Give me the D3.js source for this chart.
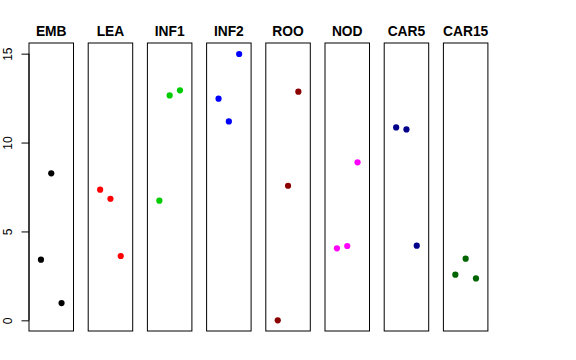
<!DOCTYPE html>
<html><head><meta charset="utf-8">
<script src="https://cdn.jsdelivr.net/npm/d3@7"></script>
<style>body{margin:0;background:#fff}svg{display:block}</style>
</head><body>
<script>
const categories = ["EMB","LEA","INF1","INF2","ROO","NOD","CAR5","CAR15"];
const colors = ["#000000","#FF0000","#00CD00","#0000FF","#8B0000","#FF00FF","#00008B","#006400"];
const replicate = [1, 2, 3];
const values = [
  [3.41, 8.27, 0.97],
  [7.35, 6.84, 3.62],
  [6.73, 12.65, 12.94],
  [12.47, 11.19, 14.98],
  [0.0, 7.57, 12.86],
  [4.05, 4.18, 8.89],
  [10.85, 10.74, 4.20],
  [2.57, 3.47, 2.36]
];
const yTicks = [0, 5, 10, 15];

(function() {
const W = 576, H = 360;
const svg = d3.select("body").append("svg").attr("width", W).attr("height", H);

const plotTop = 43, plotBottom = 331;
const yMin = -0.6, yMax = 15.6;
const y = d3.scaleLinear().domain([yMin, yMax]).range([plotBottom, plotTop]);

const panelW = 44.5;
const firstX = 29, step = 59.2;
const px = d3.scaleLinear().domain([0.784, 1.216]).range([0, panelW]);
const xr = d3.scaleLinear().domain([1, 3]).range([0.9, 1.1]);

categories.forEach((cat, i) => {
  const x0 = firstX + i * step;
  const g = svg.append("g").attr("transform", `translate(${x0},0)`);
  g.append("rect").attr("x", 0).attr("y", plotTop).attr("width", panelW).attr("height", plotBottom - plotTop)
    .attr("fill", "none").attr("stroke", "#000").attr("stroke-width", 1);
  g.append("text").attr("x", panelW / 2).attr("y", 35.5).attr("text-anchor", "middle")
    .attr("font-family", "Liberation Sans, Arial, sans-serif").attr("font-weight", "bold")
    .attr("font-size", 13.8).text(cat);
  g.selectAll("circle").data(values[i]).join("circle")
    .attr("cx", (d, j) => px(xr(replicate[j])))
    .attr("cy", d => y(d))
    .attr("r", 3.1)
    .attr("fill", colors[i]);
});

const axis = d3.axisLeft(y).tickValues(yTicks).tickSize(7.5).tickPadding(0).tickFormat(d3.format("d"));
const ag = svg.append("g").attr("transform", `translate(${firstX},0)`).call(axis);
ag.select(".domain").attr("d", `M0,${y(0)}V${y(15)}`).attr("stroke", "#000");
ag.selectAll(".tick line").attr("stroke", "#000");
ag.selectAll(".tick text")
  .attr("font-family", "Liberation Sans, Arial, sans-serif").attr("font-size", 12)
  .attr("fill", "#000")
  .attr("transform", "rotate(-90)")
  .attr("x", 0).attr("y", -17.5).attr("dy", 0)
  .attr("text-anchor", "middle");
})();
</script>
</body></html>
